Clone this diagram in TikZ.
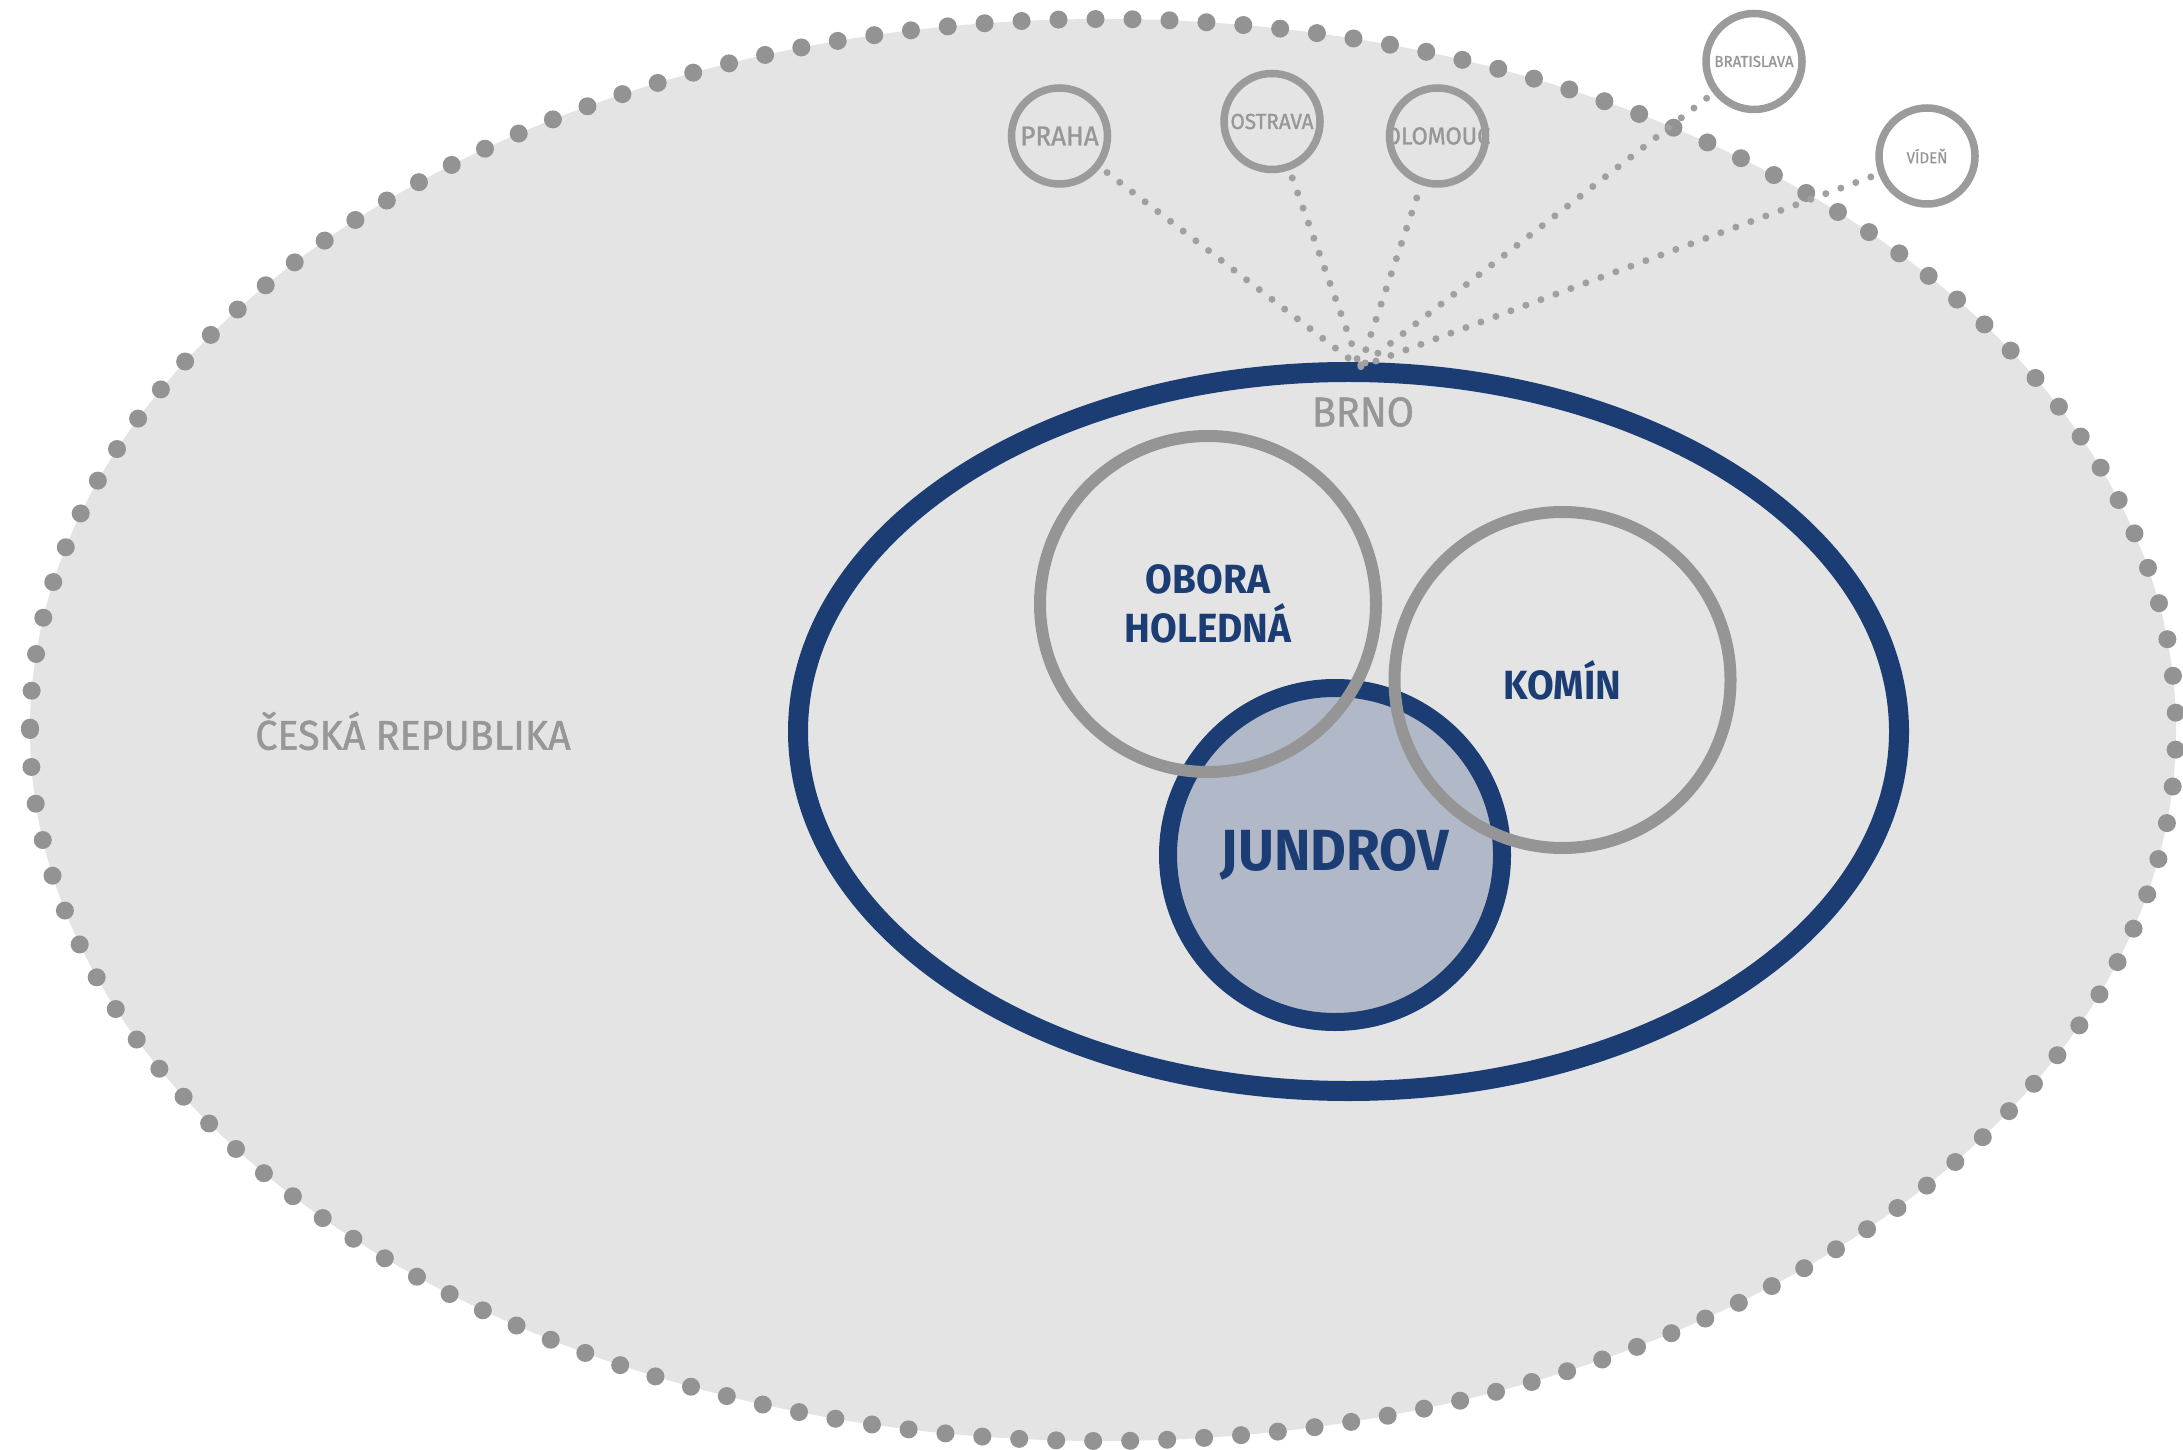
\documentclass[tikz,border=0pt]{standalone}
\usepackage{fontspec}
\setmainfont{Fira Sans}
\newfontfamily\navyfont{Fira Sans}[FakeStretch=0.95]
\newfontfamily\grayfont{Fira Sans}[FakeStretch=0.95, FakeBold=1.2]
\usetikzlibrary{shapes.geometric}
\definecolor{bgfill}{HTML}{E4E4E4}
\definecolor{dotgray}{HTML}{939393}
\definecolor{navy}{HTML}{1B3D73}
\definecolor{jfill}{HTML}{B1B9C9}
\definecolor{ringgray}{HTML}{959595}
\definecolor{citygray}{HTML}{9B9B9B}
\definecolor{labelgray}{HTML}{979797}
\definecolor{conngray}{HTML}{A0A0A0}
\begin{document}
\begin{tikzpicture}[
  citycirc/.style={circle, inner sep=0pt, minimum size=0.96cm, outer sep=0.12cm, text=labelgray},
  cityring/.style={draw=citygray, line width=0.075cm},
  conn/.style={draw=conngray, line width=0.07cm, line cap=round, dash pattern=on 0pt off 0.16cm},
  areaname/.style={circle, inner sep=0pt, text=navy, align=center, font=\navyfont\bfseries\fontsize{11.6}{14}\selectfont},
  grayring/.style={areaname, draw=ringgray, line width=0.12cm, minimum size=3.36cm},
  graylabel/.style={text=labelgray, inner sep=0pt, font=\grayfont\fontsize{11.8}{14}\selectfont}
]
\useasboundingbox (0,0) rectangle (21.83,-14.50);
% Czech Republic
\fill[bgfill] (11.03,-7.30) ellipse[x radius=10.73, y radius=7.11];
\draw[dotgray, line width=0.18cm, line cap=round, dash pattern=on 0pt off 0.37cm]
  (0.30,-7.30) arc[start angle=180, end angle=540, x radius=10.73, y radius=7.11];
% Brno
\draw[navy, line width=0.2cm] (13.485,-7.315) ellipse[x radius=5.505, y radius=3.595];
% cities
\coordinate (hub) at (13.60,-3.67);
\node[citycirc, font=\grayfont\fontsize{7.8}{9}\selectfont] (praha) at (10.595,-1.36) {PRAHA};
\node[citycirc, font=\grayfont\fontsize{6.2}{8}\selectfont] (ostrava) at (12.72,-1.215) {OSTRAVA};
\node[citycirc, font=\grayfont\fontsize{7}{8}\selectfont] (olomouc) at (14.375,-1.36) {OLOMOUC};
\node[citycirc, font=\grayfont\fontsize{4.5}{6}\selectfont] (bratislava) at (17.54,-0.615) {BRATISLAVA};
\node[citycirc, font=\grayfont\fontsize{4.5}{6}\selectfont] (viden) at (19.27,-1.56) {VÍDEŇ};
\foreach \c in {praha,ostrava,olomouc,bratislava,viden}{
  \draw[conn] (\c) -- (hub);
  \draw[cityring] (\c.center) circle[radius=0.48];
}
% Jundrov
\node[circle, draw=navy, fill=jfill, line width=0.18cm, minimum size=3.34cm, inner sep=0pt,
  text=navy, font=\navyfont\bfseries\fontsize{16.5}{19}\selectfont] (jundrov) at (13.35,-8.55) {JUNDROV};
% Obora Holedna, Komin
\node[grayring] (obora) at (12.08,-6.04) {OBORA\\HOLEDNÁ};
\node[grayring] (komin) at (15.625,-6.80) {KOMÍN};
% labels
\node[graylabel] (brnolbl) at (13.63,-4.12) {BRNO};
\node[graylabel] (cr) at (4.13,-7.31) {ČESKÁ REPUBLIKA};
\end{tikzpicture}
\end{document}
